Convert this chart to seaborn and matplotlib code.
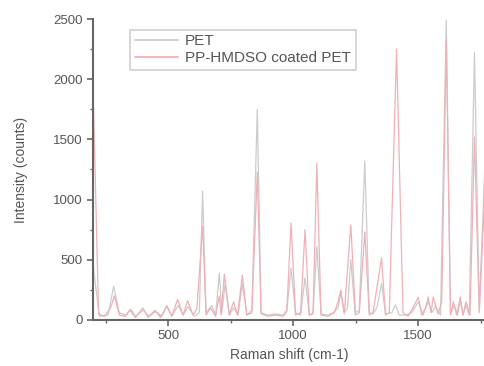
# Raman spectra: PET vs PP-HMDSO coated PET

import pandas as pd
import matplotlib.pyplot as plt
import seaborn as sns

# PET (uncoated) spectrum
pet_shift = [200, 225, 260, 282, 305, 330, 350, 370, 400, 425, 450, 475, 495, 515, 540, 560,
             580, 605, 625, 638, 652, 675, 690, 705, 715, 728, 745, 762, 780, 797, 815, 835,
             857, 872, 900, 930, 960, 975, 992, 1010, 1030, 1048, 1065, 1080, 1095, 1112, 1140,
             1160, 1180, 1191, 1205, 1218, 1231, 1248, 1265, 1287, 1305, 1320, 1335, 1354, 1370,
             1395, 1410, 1425, 1450, 1475, 1501, 1520, 1541, 1555, 1570, 1590, 1613, 1630, 1645,
             1658, 1669, 1680, 1692, 1705, 1726, 1745, 1775]
pet_counts = [450, 30, 40, 280, 60, 40, 90, 30, 80, 30, 70, 30, 110, 30, 120, 40,
              110, 30, 60, 1070, 60, 120, 40, 390, 60, 300, 40, 100, 40, 300, 40, 80,
              1750, 60, 40, 50, 40, 80, 430, 60, 40, 350, 40, 60, 610, 50, 40,
              60, 100, 230, 60, 100, 500, 60, 80, 1320, 60, 50, 100, 300, 50,
              60, 125, 40, 40, 60, 150, 40, 150, 60, 110, 40, 2490, 50, 120,
              40, 160, 40, 120, 40, 2220, 80, 1700]

# PP-HMDSO coated PET spectrum
coat_shift = [200, 222, 245, 270, 285, 305, 330, 347, 370, 399, 420, 447, 470, 495, 515, 538,
              560, 578, 600, 615, 638, 652, 670, 690, 705, 712, 725, 745, 762, 778, 797, 815,
              835, 857, 872, 900, 930, 960, 975, 992, 1010, 1030, 1048, 1065, 1080, 1095, 1112,
              1140, 1165, 1180, 1191, 1205, 1231, 1250, 1265, 1287, 1305, 1320, 1354, 1370, 1385,
              1414, 1440, 1460, 1480, 1501, 1515, 1530, 1541, 1552, 1561, 1580, 1595, 1613, 1630,
              1641, 1655, 1669, 1680, 1692, 1708, 1726, 1745, 1775]
coat_counts = [1900, 50, 30, 100, 200, 40, 30, 80, 20, 100, 20, 80, 20, 120, 30, 170,
               40, 160, 40, 90, 780, 40, 100, 30, 200, 40, 380, 40, 150, 40, 370, 40,
               60, 1230, 50, 30, 40, 30, 70, 805, 40, 60, 750, 40, 50, 1300, 40,
               30, 60, 150, 250, 50, 790, 40, 60, 730, 40, 60, 515, 40, 60,
               2250, 60, 30, 100, 190, 40, 100, 190, 60, 190, 50, 150, 2330, 40,
               150, 40, 190, 40, 150, 40, 1520, 60, 1400]

labels = ["PET", "PP-HMDSO coated PET"]
colors = ["#cccccc", "#efb0b8"]

df = pd.concat([
    pd.DataFrame({"shift": pet_shift, "counts": pet_counts, "sample": labels[0]}),
    pd.DataFrame({"shift": coat_shift, "counts": coat_counts, "sample": labels[1]}),
])

sns.set_style("ticks")
plt.rcParams["font.family"] = ["Liberation Sans", "DejaVu Sans"]

fig = plt.figure(figsize=(4.85, 3.66), dpi=100)
ax = fig.add_axes([0.192, 0.126, 0.808, 0.822])

sns.lineplot(data=df, x="shift", y="counts", hue="sample", hue_order=labels,
             palette=colors, estimator=None, sort=False,
             linewidth=0.9, ax=ax)

ax.set_xlim(200, 1768)
ax.set_ylim(0, 2500)
ax.set_xticks([500, 1000, 1500])
ax.set_xticks([250, 750, 1250, 1750], minor=True)
ax.set_yticks([0, 500, 1000, 1500, 2000, 2500])
ax.set_yticks([250, 750, 1250, 1750, 2250], minor=True)
ax.tick_params(axis="both", which="major", labelsize=9.5, colors="#666666",
               length=4, width=1.2, labelcolor="#555555")
ax.tick_params(axis="both", which="minor", length=2.5, width=1.0, colors="#666666")

sns.despine(ax=ax)
for side in ["left", "bottom"]:
    ax.spines[side].set_color("#666666")
    ax.spines[side].set_linewidth(1.5)

ax.set_xlabel("Raman shift (cm-1)", fontsize=10, color="#555555")
ax.set_ylabel("Intensity (counts)", fontsize=10, color="#555555", labelpad=18)

leg = ax.legend(loc="upper left", bbox_to_anchor=(0.075, 0.99), fontsize=11,
                handlelength=2.8, frameon=True, fancybox=False, borderpad=0.3,
                labelspacing=0.2, handletextpad=0.5)
leg.get_frame().set_edgecolor("#c4c4c4")
leg.get_frame().set_linewidth(1.2)
for line, c in zip(leg.get_lines(), colors):
    line.set_color(c)
    line.set_linewidth(1.3)
for t in leg.get_texts():
    t.set_color("#555555")

plt.savefig("out.png", dpi=100)
